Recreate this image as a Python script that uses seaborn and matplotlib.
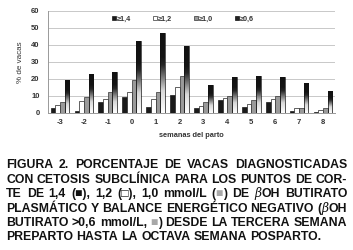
import numpy as np
import pandas as pd
import matplotlib
matplotlib.use("Agg")
import matplotlib.pyplot as plt
import seaborn as sns
from matplotlib.patches import Patch
from matplotlib.colors import LinearSegmentedColormap

weeks = ["-3", "-2", "-1", "0", "1", "2", "3", "4", "5", "6", "7", "8"]
series = ["≥1,4", "≥1,2", "≥1,0", "≥0,6"]
v14 = [2.5, 1.0, 6.5, 9.5, 3.5, 10.4, 2.9, 7.5, 3.3, 6.5, 1.2, 0.6]
v12 = [4.5, 7.0, 8.0, 12.0, 8.0, 14.9, 3.9, 8.4, 5.1, 8.2, 2.5, 1.6]
v10 = [6.5, 9.5, 12.0, 19.0, 12.0, 21.6, 6.1, 9.6, 7.3, 9.6, 2.9, 2.9]
v06 = [19.0, 23.0, 24.0, 42.0, 47.0, 39.0, 16.3, 21.2, 21.8, 21.2, 17.3, 12.9]
yticks = [0, 10, 20, 30, 40, 50, 60]

df = pd.DataFrame({
    "semana": weeks * 4,
    "serie": sum([[s] * len(weeks) for s in series], []),
    "valor": v14 + v12 + v10 + v06,
})

sns.set_style("white")
plt.rcParams["font.family"] = ["Liberation Sans", "DejaVu Sans"]

fig = plt.figure(figsize=(3.53, 2.5), dpi=100)
ax = fig.add_axes([48 / 353, 1 - 112.7 / 250, 287 / 353, 102 / 250])

sns.barplot(data=df, x="semana", y="valor", hue="serie", order=weeks,
            hue_order=series, ax=ax, width=0.78, gap=0, legend=False,
            errorbar=None, saturation=1)

styles = [dict(fc="#1a1a1a", ec="#1a1a1a"),
          dict(fc="white", ec="#222222"),
          dict(fc="#9a9a9a", ec="#333333"),
          dict(fc="none", ec="#111111")]
cmap = LinearSegmentedColormap.from_list(
    "g", [(0, "#ffffff"), (0.28, "#d8d8d8"), (0.6, "#262626"), (0.7, "#151515"), (1, "#111111")])
grad = np.linspace(0, 1, 256).reshape(-1, 1)
for cont, st in zip(ax.containers, styles):
    for bar in cont:
        bar.set_facecolor(st["fc"])
        bar.set_edgecolor(st["ec"])
        bar.set_linewidth(0.5)
for bar in ax.containers[3]:
    x0, w, h = bar.get_x(), bar.get_width(), bar.get_height()
    im = ax.imshow(grad, cmap=cmap, origin="lower", aspect="auto",
                   extent=(x0, x0 + w, 0, h), zorder=bar.get_zorder() - 0.1)
    im.set_clip_path(bar)

ax.set_xlim(-0.5, len(weeks) - 0.5)
ax.set_ylim(0, 60)
ax.set_yticks(yticks)
ax.yaxis.grid(True, color="#c8c8c8", lw=0.7)
ax.set_axisbelow(True)
for s in ["top", "right"]:
    ax.spines[s].set_visible(False)
ax.spines["left"].set_color("#999999")
ax.spines["bottom"].set_color("#999999")
ax.spines["left"].set_linewidth(0.7)
ax.spines["bottom"].set_linewidth(0.7)
ax.set_xticks(np.arange(-0.5, len(weeks)), minor=True)
ax.tick_params(axis="x", which="minor", length=3, color="#999999", width=0.7)
ax.tick_params(axis="x", which="major", length=0, pad=4.5)
ax.tick_params(axis="y", length=0, pad=6)
for lab in ax.get_xticklabels() + ax.get_yticklabels():
    lab.set_fontsize(5.5)
    lab.set_fontweight("bold")
    lab.set_color("#333333")
ax.set_xlabel("semanas del parto", fontsize=5.3, fontweight="bold",
              color="#333333", labelpad=4)
ax.set_ylabel("% de vacas", fontsize=5.8, color="#333333", labelpad=5)

handles = [Patch(facecolor="#1a1a1a", edgecolor="#1a1a1a", lw=0.5),
           Patch(facecolor="white", edgecolor="#333333", lw=0.5),
           Patch(facecolor="#9a9a9a", edgecolor="#333333", lw=0.5),
           Patch(facecolor="#222222", edgecolor="#111111", lw=0.5)]
leg = ax.legend(handles, series, ncol=4, loc="center", bbox_to_anchor=(0.47, 0.915),
                frameon=False, fontsize=5.2, handlelength=0.55, handleheight=0.55,
                handletextpad=0.15, columnspacing=3.0, borderaxespad=0)
for t in leg.get_texts():
    t.set_fontweight("bold")
    t.set_color("#333333")

# caption with justified lines
G = "#a8a8a8"
lines = [
    [[("FIGURA", "k")], [("2.", "k")], [("PORCENTAJE", "k")], [("DE", "k")], [("VACAS", "k")], [("DIAGNOSTICADAS", "k")]],
    [[("CON", "k")], [("CETOSIS", "k")], [("SUBCLÍNICA", "k")], [("PARA", "k")], [("LOS", "k")], [("PUNTOS", "k")], [("DE", "k")], [("COR-", "k")]],
    [[("TE", "k")], [("DE", "k")], [("1,4", "k")], [("(■),", "k")], [("1,2", "k")], [("(□),", "k")], [("1,0", "k")], [("mmol/L", "k")],
     [("(", "k"), ("■", G), (")", "k")], [("DE", "k")], [("β", "i"), ("OH", "k")], [("BUTIRATO", "k")]],
    [[("PLASMÁTICO", "k")], [("Y", "k")], [("BALANCE", "k")], [("ENERGÉTICO", "k")], [("NEGATIVO", "k")], [("(", "k"), ("β", "i"), ("OH", "k")]],
    [[("BUTIRATO", "k")], [(">0,6", "k")], [("mmol/L,", "k")], [("■", G), (")", "k")], [("DESDE", "k")], [("LA", "k")], [("TERCERA", "k")], [("SEMANA", "k")]],
    [[("PREPARTO", "k")], [("HASTA", "k")], [("LA", "k")], [("OCTAVA", "k")], [("SEMANA", "k")], [("POSPARTO.", "k")]],
]
baselines = [168.5, 182.9, 197.3, 211.7, 226.1, 240.5]
xl, xr = 6.0, 347.0
W, H = 353.0, 250.0
fs = 8.8
fig.canvas.draw()
rend = fig.canvas.get_renderer()


def make(seg, x, y):
    txt, c = seg
    kw = dict(fontsize=fs, fontweight="bold", va="baseline", ha="left",
              color="#111111")
    if c == "i":
        kw["fontstyle"] = "italic"
        kw["fontweight"] = "normal"
        kw["family"] = ["DejaVu Serif"]
    elif c != "k":
        kw["color"] = c
    return fig.text(x / W, 1 - y / H, txt, **kw)


def width_of(s):
    t = fig.text(0, 0, s, fontsize=fs, fontweight="bold")
    w = t.get_window_extent(rend).width
    t.remove()
    return w


space = width_of("a b") - width_of("ab")

for li, (words, yb) in enumerate(zip(lines, baselines)):
    widths = []
    for w in words:
        tot = 0
        for seg in w:
            t = make(seg, 0, yb)
            tot += t.get_window_extent(rend).width
            t.remove()
        widths.append(tot)
    if li == len(lines) - 1:
        gap = space
    else:
        gap = (xr - xl - sum(widths)) / (len(words) - 1)
    x = xl
    for w, wd in zip(words, widths):
        xx = x
        for seg in w:
            t = make(seg, xx, yb)
            xx += t.get_window_extent(rend).width
        x += wd + gap

fig.savefig("out.png", dpi=100)
